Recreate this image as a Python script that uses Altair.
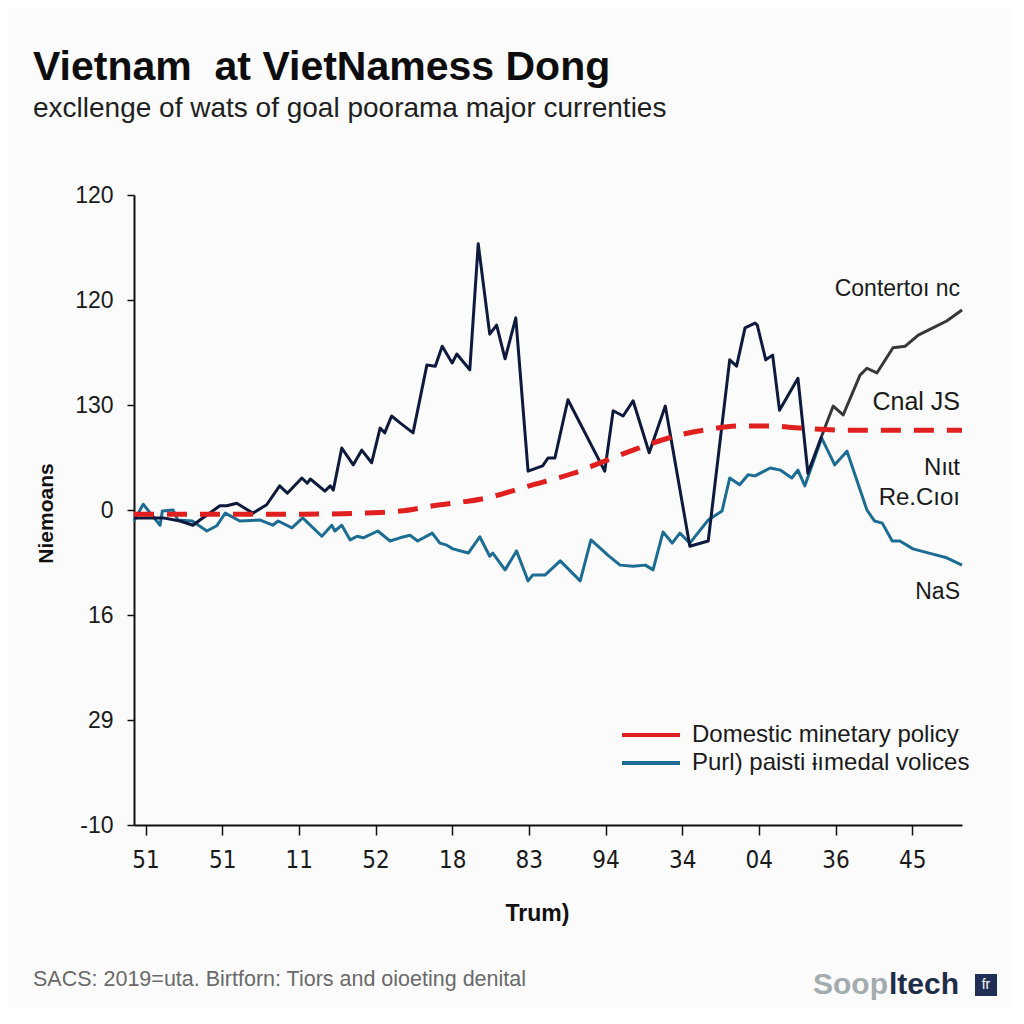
import altair as alt
import pandas as pd

title_text = "Vietnam\u00a0 at VietNamess Dong"
subtitle_text = "excllenge of wats of goal poorama major currenties"
x_title = "Trum)"
y_title = "Niemoans"
footer_text = "SACS: 2019=uta. Birtforn: Tiors and oioeting denital"
logo_a = "Soop"
logo_b = "ltech"
logo_box = "fr"

x_tick_values = [1.5, 11.5, 21.5, 31.5, 41.5, 51.5, 61.5, 71.5, 81.5, 91.5, 101.5]
x_tick_labels = ["51", "51", "11", "52", "18", "83", "94", "34", "04", "36", "45"]
y_tick_values = [60, 40, 20, 0, -20, -40, -60]
y_tick_labels = ["120", "120", "130", "0", "16", "29", "-10"]

red_name = "Domestic minetary policy"
blue_name = "Purl) paisti \u0268\u0131medal volices"

navy_x = [0, 3.8, 6.0, 7.7, 8.6, 11.2, 12.1, 13.4, 15.5, 17.3, 19.0, 20.0, 21.9, 22.6, 23.0,
          24.9, 25.6, 26.0, 27.1, 28.6, 29.7, 31.0, 32.1, 32.7, 33.6, 34.7, 36.4, 38.2, 39.3,
          40.2, 41.5, 42.1, 43.8, 44.9, 46.4, 47.3, 48.4, 49.8, 51.4, 53.3, 54.0, 54.9, 56.6,
          61.4, 62.5, 63.8, 65.1, 67.2, 69.3, 72.5, 74.9, 77.7, 78.6, 79.7, 81.0, 81.3, 82.4,
          83.3, 84.2, 86.6, 87.9, 89.7]
navy_y = [-1.5, -1.5, -2.1, -2.9, -1.9, 0.8, 0.8, 1.3, -0.6, 1.0, 4.6, 3.2, 6.1, 5.1, 5.9,
          3.6, 4.6, 3.8, 11.8, 8.6, 11.4, 9.0, 15.6, 14.7, 17.9, 16.6, 14.7, 27.6, 27.4,
          31.2, 28.0, 29.7, 26.7, 50.7, 33.5, 35.2, 28.8, 36.6, 7.4, 8.4, 9.9, 9.9, 21.0,
          7.4, 18.9, 17.9, 20.8, 10.9, 19.8, -6.9, -5.9, 28.6, 27.4, 34.7, 35.6, 35.2, 28.6,
          29.5, 19.0, 25.1, 7.0, 14.1]

grey_x = [89.7, 91.2, 92.5, 94.7, 95.6, 96.9, 99.0, 100.6, 102.3, 104.2, 106.0, 108.0]
grey_y = [14.1, 19.8, 18.1, 25.7, 27.0, 26.1, 30.9, 31.2, 33.3, 34.7, 36.0, 38.1]

blue_x = [0, 1.2, 3.4, 3.7, 5.1, 5.7, 7.6, 9.5, 10.8, 11.9, 13.8, 16.4, 18.1, 18.8, 20.6,
          22.0, 24.5, 25.8, 26.2, 27.1, 28.2, 29.1, 29.9, 31.8, 33.4, 34.7, 36.0, 37.0, 38.9,
          39.9, 40.8, 41.6, 43.6, 45.1, 46.4, 46.8, 48.4, 49.9, 51.4, 52.0, 53.6, 55.6, 58.2,
          59.6, 61.2, 61.8, 63.4, 65.1, 66.7, 67.7, 69.0, 70.2, 71.2, 72.5, 74.9, 76.7, 77.7,
          79.0, 80.1, 81.0, 83.0, 84.3, 85.8, 86.6, 87.5, 89.7, 91.4, 93.0, 95.6, 96.6, 97.6,
          98.9, 99.9, 101.6, 104.2, 106.0, 108.0]
blue_y = [-2.1, 1.1, -2.9, -0.2, 0.0, -1.9, -2.1, -4.0, -3.0, -0.6, -2.1, -1.9, -2.9, -2.1, -3.4,
          -1.5, -5.0, -2.9, -4.0, -2.9, -5.7, -5.0, -5.3, -4.0, -5.9, -5.3, -4.8, -5.9, -4.4,
          -6.3, -6.7, -7.4, -8.2, -5.1, -8.8, -8.2, -11.4, -7.8, -13.5, -12.4, -12.4, -9.7, -13.5,
          -5.7, -7.8, -8.6, -10.5, -10.7, -10.5, -11.4, -4.2, -6.3, -4.4, -6.3, -1.9, -0.2, 6.1,
          4.8, 6.7, 6.5, 8.0, 7.6, 6.1, 7.6, 4.6, 13.7, 8.6, 11.2, 0.0, -2.1, -2.5,
          -5.9, -5.9, -7.4, -8.4, -9.1, -10.5]

red_x = [0, 8.6, 21.7, 29.5, 34.7, 39.0, 46.0, 52.0, 57.3, 61.7, 65.1, 71.2, 75.1, 79.0,
         83.0, 86.9, 93.3, 108.0]
red_y = [-0.8, -0.8, -0.8, -0.6, -0.2, 0.8, 2.3, 4.8, 7.0, 9.5, 11.4, 14.3, 15.4, 16.0,
         16.0, 15.6, 15.2, 15.2]

ann_labels = ["Contertoı nc", "Cnal JS", "Nıɩt", "Re.Cıoı", "NaS"]
ann_y = [42.1, 20.6, 8.0, 2.3, -15.6]
ann_size = [23, 25, 24, 24, 23]

RED = "#e01f1f"
BLUE = "#1d6c93"
NAVY = "#0e1a3d"
GREY = "#383838"
FONT = "Liberation Sans"
NARROW = "'DejaVu Sans Condensed', 'Liberation Sans', sans-serif"

navy_df = pd.DataFrame({"x": navy_x, "y": navy_y})
grey_df = pd.DataFrame({"x": grey_x, "y": grey_y})
blue_df = pd.DataFrame({"x": blue_x, "y": blue_y, "series": blue_name})
red_df = pd.DataFrame({"x": red_x, "y": red_y, "series": red_name})
ann_df = pd.DataFrame({"label": ann_labels, "y": ann_y, "size": ann_size})

x_label_expr = "[" + ",".join("'%s'" % s for s in x_tick_labels) + "][round((datum.value - 1.5) / 10)]"
y_label_expr = "".join("datum.value == %s ? '%s' : " % (v, s) for v, s in zip(y_tick_values, y_tick_labels)) + "''"

x_enc = alt.X(
    "x:Q",
    scale=alt.Scale(domain=[0, 108], nice=False, zero=False),
    axis=alt.Axis(
        values=x_tick_values, labelExpr=x_label_expr, grid=False,
        domainColor="#111", domainWidth=2, tickColor="#111", tickWidth=1.5, tickSize=10,
        labelFont=NARROW, labelFontSize=24, labelColor="#1a1a1a", labelPadding=13,
        labelFlush=False,
        title=x_title, titleFont=FONT, titleFontSize=23, titleFontWeight="bold", titleColor="#111",
        titleX=403, titleY=88, titleAlign="center", titleBaseline="middle",
    ),
)
y_enc = alt.Y(
    "y:Q",
    scale=alt.Scale(domain=[-60, 60], nice=False, zero=False),
    axis=alt.Axis(
        values=y_tick_values, labelExpr=y_label_expr, grid=False,
        domainColor="#111", domainWidth=2, tickColor="#111", tickWidth=1.5, tickSize=7,
        labelFont=FONT, labelFontSize=23, labelColor="#1a1a1a", labelPadding=14,
        labelFlush=False,
        title=y_title, titleFont=FONT, titleFontSize=21, titleFontWeight="bold", titleColor="#111",
        titleX=-88, titleY=318, titleAngle=-90, titleAlign="center", titleBaseline="middle",
    ),
)

color_enc = alt.Color(
    "series:N",
    scale=alt.Scale(domain=[red_name, blue_name], range=[RED, BLUE]),
    legend=alt.Legend(
        orient="none", legendX=486, legendY=526, title=None,
        symbolType="stroke", symbolSize=3364, symbolStrokeWidth=4, symbolDash=[1, 0],
        clipHeight=28, rowPadding=0, labelOffset=10,
        labelFont=FONT, labelFontSize=24, labelColor="#1a1a1a", labelLimit=400,
    ),
)

blue_line = alt.Chart(blue_df).mark_line(strokeWidth=3, strokeJoin="round").encode(
    x=x_enc, y=y_enc, color=color_enc)
navy_line = alt.Chart(navy_df).mark_line(strokeWidth=3, color=NAVY, strokeJoin="round").encode(
    x=x_enc, y=y_enc)
grey_line = alt.Chart(grey_df).mark_line(strokeWidth=3, color=GREY, strokeJoin="round").encode(
    x=x_enc, y=y_enc)
red_line = alt.Chart(red_df).mark_line(strokeWidth=5, interpolate="monotone").encode(
    x=x_enc, y=y_enc, color=color_enc, strokeDash=alt.value([20, 13]))

ann = alt.Chart(ann_df).mark_text(align="right", baseline="middle", font=FONT, color="#1a1a1a").encode(
    x=alt.value(826), y=y_enc, text="label:N", size=alt.Size("size:Q", scale=None, legend=None))

footer = alt.Chart(pd.DataFrame({"t": [footer_text]})).mark_text(
    align="left", baseline="middle", font=FONT, fontSize=21.5, color="#6a6a6a").encode(
    x=alt.value(-101), y=alt.value(785), text="t:N")
logo1 = alt.Chart(pd.DataFrame({"t": [logo_a]})).mark_text(
    align="right", baseline="middle", font=FONT, fontSize=30, fontWeight="bold", color="#a3abae").encode(
    x=alt.value(754), y=alt.value(790), text="t:N")
logo2 = alt.Chart(pd.DataFrame({"t": [logo_b]})).mark_text(
    align="left", baseline="middle", font=FONT, fontSize=30, fontWeight="bold", color="#1f2c48").encode(
    x=alt.value(755), y=alt.value(790), text="t:N")
box = alt.Chart(pd.DataFrame({"t": [logo_box]})).mark_rect(color="#1f2f55").encode(
    x=alt.value(841), x2=alt.value(863), y=alt.value(779), y2=alt.value(801))
box_text = alt.Chart(pd.DataFrame({"t": [logo_box]})).mark_text(
    align="center", baseline="middle", font=FONT, fontSize=14, color="white").encode(
    x=alt.value(852), y=alt.value(790), text="t:N")

chart = alt.layer(
    blue_line, navy_line, grey_line, red_line, ann, footer, logo1, logo2, box, box_text
).properties(
    width=828, height=630,
    autosize=alt.AutoSizeParams(type="none"),
    padding={"left": 126, "top": 187, "right": 50, "bottom": 183},
    background="#fbfbfb",
    title=alt.TitleParams(
        text=title_text, subtitle=subtitle_text, anchor="start", frame="group", dx=-101,
        font=FONT, fontSize=41, fontWeight="bold", color="#0d0d0d",
        subtitleFont=FONT, subtitleFontSize=28, subtitleColor="#1f1f1f", subtitlePadding=6,
        offset=60,
    ),
).configure_view(stroke=None)

chart.save("out.html", embed_options={"renderer": "svg", "actions": False})
